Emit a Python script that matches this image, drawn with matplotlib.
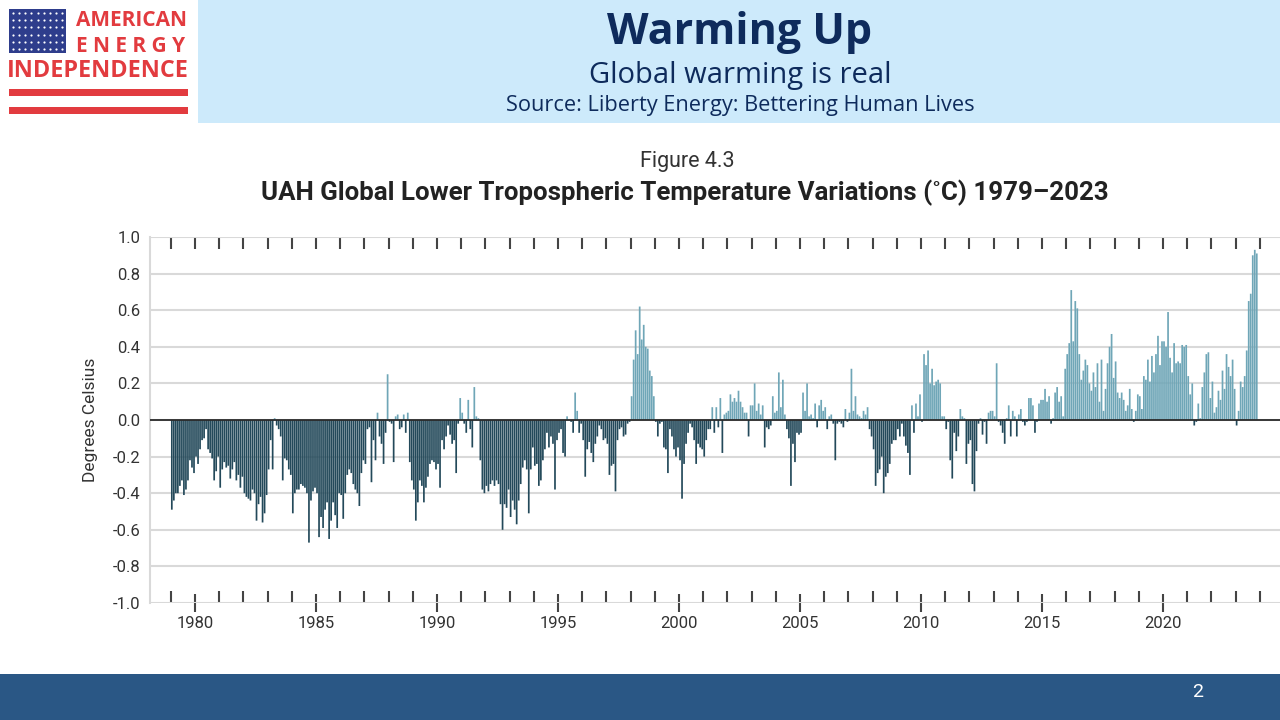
import numpy as np
import matplotlib.pyplot as plt
from matplotlib.patches import Rectangle

# UAH lower troposphere monthly anomalies (deg C), Jan 1979 - Nov 2023,
# read off the figure one year per line
anom_1979_1983 = [
    -0.49, -0.44, -0.40, -0.40, -0.36, -0.33, -0.41, -0.38, -0.33, -0.22, -0.26, -0.29,
    -0.20, -0.24, -0.16, -0.11, -0.10, -0.05, -0.16, -0.18, -0.21, -0.33, -0.28, -0.20,
    -0.37, -0.27, -0.23, -0.26, -0.25, -0.32, -0.27, -0.23, -0.33, -0.30, -0.37, -0.31,
    -0.40, -0.42, -0.43, -0.44, -0.38, -0.40, -0.55, -0.46, -0.42, -0.56, -0.51, -0.41,
    -0.27, -0.11, -0.27, 0.01, -0.03, -0.05, -0.09, -0.33, -0.21, -0.22, -0.27, -0.30,
]
anom_1984_1988 = [
    -0.51, -0.40, -0.38, -0.38, -0.35, -0.36, -0.37, -0.40, -0.67, -0.44, -0.39, -0.37,
    -0.40, -0.64, -0.53, -0.59, -0.49, -0.45, -0.65, -0.55, -0.45, -0.52, -0.59, -0.40,
    -0.41, -0.54, -0.40, -0.30, -0.27, -0.29, -0.35, -0.38, -0.40, -0.47, -0.29, -0.22,
    -0.24, -0.05, -0.04, -0.34, -0.11, -0.22, 0.04, -0.09, -0.13, -0.24, -0.07, 0.25,
    -0.01, -0.02, -0.23, 0.02, 0.03, -0.05, -0.04, 0.03, -0.07, 0.04, -0.23, -0.33,
]
anom_1989_1993 = [
    -0.38, -0.55, -0.45, -0.33, -0.36, -0.45, -0.37, -0.31, -0.24, -0.22, -0.23, -0.27,
    -0.24, -0.37, -0.11, -0.16, -0.09, -0.03, -0.08, -0.13, -0.11, -0.29, -0.02, 0.12,
    0.04, -0.02, -0.07, 0.11, -0.05, -0.15, 0.18, 0.02, 0.01, -0.22, -0.38, -0.40,
    -0.36, -0.39, -0.35, -0.33, -0.36, -0.33, -0.35, -0.46, -0.60, -0.46, -0.48, -0.38,
    -0.53, -0.44, -0.49, -0.57, -0.44, -0.35, -0.26, -0.22, -0.27, -0.51, -0.27, -0.15,
]
anom_1994_1998 = [
    -0.25, -0.24, -0.36, -0.33, -0.22, -0.16, -0.07, -0.15, -0.09, -0.13, -0.38, -0.11,
    -0.07, -0.05, -0.18, -0.20, 0.02, 0.00, -0.01, -0.07, 0.15, 0.05, -0.07, -0.02,
    -0.11, -0.31, -0.16, -0.12, -0.18, -0.23, -0.13, -0.09, -0.03, -0.05, -0.11, -0.10,
    -0.13, -0.30, -0.25, -0.24, -0.39, -0.11, -0.05, -0.04, -0.09, -0.08, -0.02, -0.01,
    0.13, 0.33, 0.49, 0.36, 0.62, 0.44, 0.52, 0.40, 0.39, 0.27, 0.24, 0.13,
]
anom_1999_2003 = [
    -0.01, -0.09, -0.02, -0.01, -0.15, -0.16, -0.29, -0.05, -0.09, -0.16, -0.20, -0.15,
    -0.22, -0.43, -0.24, -0.13, -0.07, -0.02, -0.04, -0.11, -0.24, -0.13, -0.15, -0.16,
    -0.20, -0.11, -0.05, -0.05, 0.07, -0.07, 0.07, -0.04, 0.12, -0.18, 0.03, 0.04,
    0.05, 0.14, 0.10, 0.12, 0.10, 0.16, 0.10, 0.07, 0.04, 0.04, -0.09, 0.08,
    0.08, 0.20, 0.05, 0.09, 0.03, 0.08, -0.15, -0.04, -0.05, -0.03, 0.13, 0.04,
]
anom_2004_2008 = [
    0.05, 0.26, 0.07, 0.22, 0.03, -0.05, -0.10, -0.36, -0.13, -0.23, -0.07, -0.08,
    -0.07, 0.15, 0.05, 0.20, 0.02, 0.03, 0.01, 0.09, -0.04, 0.08, 0.11, 0.05,
    0.07, -0.05, 0.02, 0.03, -0.02, -0.22, -0.02, -0.01, -0.02, -0.04, 0.06, -0.01,
    0.04, 0.28, 0.05, 0.13, 0.03, 0.02, 0.01, 0.05, 0.03, 0.07, -0.05, -0.09,
    -0.16, -0.36, -0.29, -0.27, -0.20, -0.40, -0.31, -0.29, -0.24, -0.13, -0.11, -0.11,
]
anom_2009_2013 = [
    -0.05, -0.09, -0.02, -0.09, -0.14, -0.18, -0.30, 0.08, -0.07, 0.09, 0.02, 0.14,
    -0.01, 0.36, 0.30, 0.38, 0.20, 0.28, 0.19, 0.21, 0.22, 0.20, 0.02, 0.02,
    -0.05, -0.01, -0.22, -0.32, -0.07, -0.17, -0.09, 0.06, 0.02, 0.01, -0.24, -0.13,
    -0.11, -0.35, -0.39, -0.17, -0.02, 0.01, -0.08, -0.01, -0.13, 0.04, 0.05, 0.05,
    0.02, 0.31, -0.01, -0.03, -0.07, -0.13, 0.01, 0.08, -0.09, 0.05, 0.02, -0.09,
]
anom_2014_2018 = [
    0.03, 0.06, -0.01, -0.03, -0.01, 0.12, 0.12, 0.08, -0.07, -0.01, 0.09, 0.11,
    0.11, 0.17, 0.10, 0.13, -0.02, 0.01, 0.15, 0.18, 0.10, 0.13, 0.02, 0.28,
    0.36, 0.42, 0.71, 0.43, 0.65, 0.61, 0.36, 0.22, 0.27, 0.33, 0.30, 0.20,
    0.16, 0.26, 0.18, 0.31, 0.10, 0.33, 0.05, 0.17, 0.31, 0.40, 0.47, 0.23,
    0.32, 0.15, 0.12, 0.15, 0.11, 0.05, 0.08, 0.17, 0.06, -0.01, 0.05, 0.14,
]
anom_2019_2023 = [
    0.13, 0.06, 0.24, 0.22, 0.33, 0.21, 0.35, 0.26, 0.36, 0.46, 0.30, 0.43,
    0.43, 0.40, 0.59, 0.34, 0.26, 0.42, 0.31, 0.32, 0.31, 0.41, 0.40, 0.41,
    0.24, 0.14, 0.20, -0.03, -0.01, 0.09, 0.01, 0.18, 0.26, 0.36, 0.37, 0.12,
    0.21, 0.04, 0.07, 0.16, 0.11, 0.27, 0.17, 0.36, 0.29, 0.24, 0.33, 0.17,
    -0.03, 0.05, 0.21, 0.18, 0.24, 0.38, 0.65, 0.69, 0.90, 0.93, 0.91,
]

start_year = 1979
y_ticks = [-1.0, -0.8, -0.6, -0.4, -0.2, 0.0, 0.2, 0.4, 0.6, 0.8, 1.0]
x_labels = [1980, 1985, 1990, 1995, 2000, 2005, 2010, 2015, 2020]

vals = np.array(anom_1979_1983 + anom_1984_1988 + anom_1989_1993 + anom_1994_1998
                + anom_1999_2003 + anom_2004_2008 + anom_2009_2013 + anom_2014_2018
                + anom_2019_2023)
months = np.arange(len(vals))
x = start_year + (months + 0.5) / 12

NEG = '#23495a'
POS = '#6fa6b7'
colors = np.where(vals >= 0, POS, NEG)

plt.rcParams['font.family'] = ['Roboto', 'DejaVu Sans']

fig = plt.figure(figsize=(12.8, 7.2), dpi=100)

# slide background, header, footer, logo (pixel coords)
bg = fig.add_axes([0, 0, 1, 1])
bg.set_xlim(0, 1280)
bg.set_ylim(720, 0)
bg.axis('off')
bg.add_patch(Rectangle((198, 0), 1082, 123, color='#cdeafb', lw=0))
bg.add_patch(Rectangle((0, 674), 1280, 46, color='#2a5785', lw=0))

red = '#e23b3f'
bg.add_patch(Rectangle((9, 9), 57, 44, color='#2e3d8c', lw=0))
sx, sy = np.meshgrid(np.linspace(13, 62, 9), np.linspace(13, 49, 6))
bg.scatter(sx.ravel(), sy.ravel(), s=2.5, color='white', lw=0)
bg.add_patch(Rectangle((9, 89), 179, 7, color=red, lw=0))
bg.add_patch(Rectangle((9, 107), 179, 7, color=red, lw=0))
bg.text(131, 20, 'AMERICAN', fontsize=15, fontweight='bold', color=red,
        ha='center', va='center', family='Open Sans')
bg.text(131, 46, 'E N E R G Y', fontsize=15, fontweight='bold', color=red,
        ha='center', va='center', family='Open Sans')
bg.text(98, 71, 'INDEPENDENCE', fontsize=16.8, fontweight='bold', color=red,
        ha='center', va='center', family='Open Sans')

navy = '#0e2b5c'
bg.text(740, 32, 'Warming Up', fontsize=31, fontweight='bold', color=navy,
        ha='center', va='center', family='Open Sans')
bg.text(740, 76, 'Global warming is real', fontsize=21, color=navy,
        ha='center', va='center', family='Open Sans')
bg.text(740, 106, 'Source: Liberty Energy: Bettering Human Lives', fontsize=15.7,
        color=navy, ha='center', va='center', family='Open Sans')
bg.text(1198, 692, '2', fontsize=14, color='white', ha='center', va='center')

bg.text(687, 161, 'Figure 4.3', fontsize=15.5, color='#333333', ha='center', va='center')
bg.text(685, 193, 'UAH Global Lower Tropospheric Temperature Variations (\u02daC) 1979\u20132023',
        fontsize=18.6, fontweight='bold', color='#222222', ha='center', va='center')
bg.text(91, 420, 'Degrees Celsius', fontsize=12.5, color='#333333', rotation=90,
        ha='center', va='center')

# chart
ax = fig.add_axes([150 / 1280, 117 / 720, 1130 / 1280, 366 / 720])
ax.bar(x, vals, width=0.85 / 12, color=colors, linewidth=0, zorder=3, snap=False)
ax.axhline(0, color='#2b2b2b', lw=1.3, zorder=4)

ax.set_ylim(-1, 1)
ax.set_xlim(1978.14, 1978.14 + 1130 / 24.2)
ax.set_yticks(y_ticks)
ax.set_yticklabels([f'{v:.1f}' for v in y_ticks])
ax.grid(axis='y', color='#d9d9d9', lw=1.5)
ax.set_axisbelow(True)

for s in ['top', 'right', 'bottom']:
    ax.spines[s].set_visible(False)
ax.spines['left'].set_color('#d9d9d9')
ax.spines['left'].set_linewidth(1.5)

ax.tick_params(axis='y', length=0, pad=7, labelsize=12, labelcolor='#333333')
ax.set_xticks(x_labels)
ax.set_xticklabels([str(y) for y in x_labels])
ax.set_xticks(np.arange(1979, 2025), minor=True)
ax.tick_params(axis='x', which='major', direction='inout', length=13, width=1.5,
               color='#444444', labelsize=12, labelcolor='#333333', pad=3)
ax.tick_params(axis='x', which='minor', direction='in', length=8.6, width=1.5,
               color='#444444')

top = ax.secondary_xaxis('top')
top.set_xticks(np.arange(1979, 2025))
top.tick_params(direction='in', length=8.6, width=1.5, color='#444444', labeltop=False)
top.spines['top'].set_visible(False)

fig.savefig('out.png', dpi=100)
